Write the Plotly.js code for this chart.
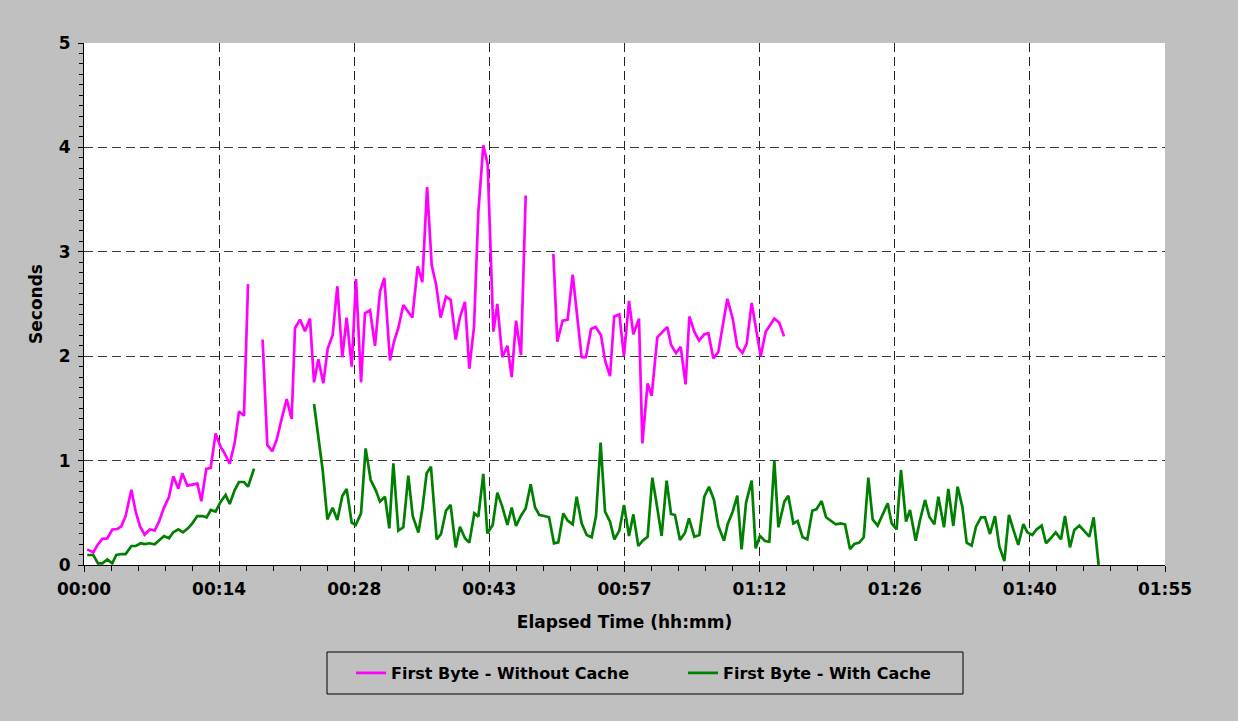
<!DOCTYPE html>
<html>
<head>
<meta charset="utf-8">
<script src="https://cdn.plot.ly/plotly-3.0.1.min.js"></script>
<style>
html,body{margin:0;padding:0;background:#c0c0c0;}
#chart{width:1238px;height:721px;}
</style>
</head>
<body>
<div id="chart"></div>
<script>
// Elapsed minutes and seconds-to-first-byte
var minutesNoCache = [0.35,0.99,1.42,1.95,2.48,3.01,3.55,3.97,4.43,5.04,5.5,5.96,6.45,6.99,7.52,7.98,8.51,9.04,9.5,10.04,10.46,10.99,11.52,12.06,12.48,13.01,13.48,14.0,14.54,14.96,15.5,16.03,16.49,17.02,17.45,
  18.2,
  19.0,19.5,20.03,20.5,21.03,21.56,22.09,22.45,22.98,23.51,24.04,24.47,24.93,25.46,25.92,26.45,26.95,27.48,27.94,28.48,28.94,29.47,29.89,30.43,30.96,31.49,31.95,32.55,32.98,33.44,33.97,34.45,34.93,35.5,35.99,36.5,36.99,37.45,37.94,38.51,39.01,39.54,40.0,40.53,40.99,41.49,41.95,42.48,42.94,43.55,43.97,44.5,45.04,45.5,45.96,46.49,46.99,
  48.4,
  49.93,50.35,50.92,51.45,51.99,52.48,52.94,53.4,53.94,54.43,55.0,55.43,55.96,56.4,56.95,57.44,57.98,58.44,59.04,59.4,59.96,60.39,60.99,61.52,62.06,62.45,62.98,63.48,64.0,64.4,64.93,65.43,65.99,66.42,66.95,67.48,67.94,68.44,69.01,69.5,70.04,70.5,71.03,71.49,71.99,72.52,72.98,73.44,73.97,74.47];
var secondsNoCache = [0.15,0.12,0.19,0.25,0.255,0.34,0.345,0.37,0.47,0.72,0.51,0.37,0.29,0.34,0.33,0.415,0.55,0.65,0.85,0.73,0.88,0.76,0.77,0.78,0.61,0.92,0.93,1.26,1.13,1.07,0.97,1.17,1.47,1.43,2.69,
  null,
  2.16,1.15,1.09,1.2,1.4,1.59,1.4,2.27,2.35,2.24,2.36,1.75,1.97,1.74,2.07,2.2,2.67,1.99,2.37,1.9,2.74,1.75,2.41,2.44,2.1,2.62,2.75,1.96,2.14,2.27,2.49,2.43,2.37,2.86,2.71,3.62,2.87,2.69,2.37,2.57,2.54,2.16,2.375,2.52,1.88,2.28,3.38,4.02,3.84,2.235,2.5,1.99,2.1,1.8,2.34,2.01,3.54,
  null,
  2.98,2.14,2.34,2.35,2.78,2.375,1.99,1.99,2.26,2.28,2.2,1.96,1.81,2.38,2.4,2.0,2.53,2.21,2.36,1.165,1.74,1.62,2.18,2.23,2.28,2.11,2.03,2.09,1.73,2.38,2.235,2.15,2.21,2.22,1.98,2.04,2.3,2.55,2.36,2.09,2.03,2.12,2.51,2.26,2.0,2.235,2.3,2.36,2.32,2.19];

var minutesCache = [0.35,0.99,1.49,1.95,2.48,3.01,3.44,3.97,4.43,5.04,5.5,6.03,6.45,6.99,7.52,7.98,8.51,9.04,9.5,10.04,10.53,11.06,11.52,12.06,12.59,13.05,13.48,14.0,14.54,15.07,15.5,16.03,16.49,17.02,17.45,18.09,
  21.3,
  24.47,25.39,25.89,26.45,26.95,27.48,27.94,28.48,28.9,29.47,29.96,30.5,31.03,31.49,32.02,32.48,32.91,33.44,33.97,34.5,34.97,35.57,35.99,36.45,36.91,37.52,37.98,38.51,39.0,39.54,40.0,40.53,40.99,41.52,41.95,42.48,42.91,43.48,43.97,44.5,45.04,45.5,45.96,46.49,46.99,47.52,47.98,48.44,48.97,49.47,50.0,50.46,50.99,51.45,51.99,52.41,52.94,53.48,54.01,54.47,54.96,55.43,55.96,56.42,56.95,57.45,57.98,58.44,58.97,59.43,59.96,60.46,60.92,61.45,61.98,62.45,62.87,63.4,63.94,64.36,64.93,65.46,65.99,66.49,67.02,67.48,68.09,68.48,69.01,69.5,69.96,70.43,71.03,71.45,71.91,72.45,72.91,73.44,73.87,74.51,74.93,75.46,75.92,76.45,76.95,77.48,77.94,78.47,78.94,79.43,79.97,80.5,80.96,81.49,81.95,82.48,82.95,83.44,83.9,84.43,84.96,85.5,85.92,86.45,86.91,87.45,87.87,88.48,88.94,89.47,89.93,90.46,90.89,91.49,91.95,92.48,92.94,93.44,93.9,94.43,94.89,95.43,95.85,96.38,96.91,97.38,97.91,98.4,98.86,99.39,99.93,100.35,100.88,101.35,101.88,102.34,102.84,103.37,103.94,104.36,104.89,105.35,105.89,106.42,106.95,107.41,107.94];
var secondsCache = [0.096,0.096,0.016,0.016,0.054,0.016,0.096,0.105,0.105,0.182,0.182,0.208,0.201,0.208,0.198,0.233,0.278,0.256,0.313,0.342,0.313,0.351,0.399,0.469,0.469,0.457,0.527,0.511,0.607,0.671,0.584,0.718,0.795,0.795,0.75,0.923,
  null,
  1.542,0.91,0.437,0.549,0.431,0.661,0.728,0.405,0.383,0.495,1.117,0.814,0.718,0.607,0.654,0.351,0.974,0.329,0.361,0.856,0.469,0.31,0.533,0.878,0.942,0.246,0.297,0.52,0.575,0.169,0.367,0.256,0.214,0.495,0.463,0.872,0.303,0.383,0.693,0.559,0.383,0.549,0.374,0.472,0.543,0.773,0.553,0.479,0.469,0.457,0.208,0.217,0.495,0.425,0.389,0.654,0.399,0.287,0.265,0.469,1.172,0.511,0.415,0.246,0.329,0.575,0.278,0.485,0.182,0.233,0.271,0.836,0.584,0.278,0.808,0.489,0.479,0.239,0.31,0.447,0.271,0.287,0.654,0.75,0.623,0.374,0.233,0.393,0.511,0.664,0.15,0.597,0.808,0.16,0.278,0.23,0.223,0.999,0.361,0.607,0.664,0.399,0.421,0.265,0.246,0.52,0.536,0.613,0.457,0.425,0.389,0.399,0.389,0.153,0.201,0.214,0.265,0.836,0.437,0.377,0.479,0.591,0.399,0.342,0.91,0.415,0.527,0.233,0.431,0.623,0.463,0.389,0.654,0.361,0.728,0.374,0.75,0.559,0.214,0.185,0.367,0.457,0.457,0.297,0.469,0.176,0.038,0.479,0.342,0.192,0.393,0.313,0.287,0.342,0.377,0.208,0.256,0.313,0.246,0.469,0.169,0.335,0.377,0.329,0.271,0.457,0.0];

var xTickMinutes = [0,14.375,28.75,43.125,57.5,71.875,86.25,100.625,115];
var xTickLabels = ['00:00','00:14','00:28','00:43','00:57','01:12','01:26','01:40','01:55'];
var seriesNames = ['First Byte - Without Cache','First Byte - With Cache'];
var seriesColors = ['#ff00ff','#008000'];

var FONT = 'DejaVu Sans, Verdana, sans-serif';

var traces = [
  {x: minutesNoCache, y: secondsNoCache, name: seriesNames[0], type: 'scatter', mode: 'lines',
   connectgaps: false, line: {color: seriesColors[0], width: 2.7}},
  {x: minutesCache, y: secondsCache, name: seriesNames[1], type: 'scatter', mode: 'lines',
   connectgaps: false, line: {color: seriesColors[1], width: 2.7}}
];

// plot area in pixels: x 84..1165, y 43..565 (height 522)
var layout = {
  width: 1238, height: 721,
  paper_bgcolor: '#c0c0c0',
  plot_bgcolor: '#ffffff',
  margin: {l: 84, r: 73, t: 43, b: 156},
  showlegend: true,
  font: {family: FONT, color: '#000', size: 16},
  xaxis: {
    range: [0, 115],
    tickmode: 'array', tickvals: xTickMinutes, ticktext: xTickLabels,
    ticks: 'outside', ticklen: 6, tickwidth: 1, tickcolor: '#000',
    ticklabelstandoff: 3,
    tickfont: {family: FONT, size: 17, color: '#000', weight: 'bold'},
    showline: true, linecolor: '#000', linewidth: 1,
    showgrid: true, gridcolor: '#222', griddash: '9px,5px', gridwidth: 1,
    zeroline: false,
    minor: {dtick: 2.875, tick0: 0, ticks: 'outside', ticklen: 5, tickcolor: '#000', showgrid: false},
    title: {text: 'Elapsed Time (hh:mm)', font: {family: FONT, size: 17, color: '#000', weight: 'bold'}, standoff: 17},
    fixedrange: true
  },
  yaxis: {
    range: [0, 5],
    tickmode: 'linear', tick0: 0, dtick: 1,
    ticks: 'outside', ticklen: 5, tickwidth: 1, tickcolor: '#000',
    ticklabelstandoff: 4,
    tickfont: {family: FONT, size: 17, color: '#000', weight: 'bold'},
    showline: true, linecolor: '#000', linewidth: 1,
    showgrid: true, gridcolor: '#3a3a3a', griddash: '9px,5px', gridwidth: 1,
    zeroline: false,
    minor: {dtick: 0.1, tick0: 0, ticks: 'outside', ticklen: 4, tickcolor: '#000', showgrid: false},
    title: {text: 'Seconds', font: {family: FONT, size: 17, color: '#000', weight: 'bold'}, standoff: 11},
    fixedrange: true
  },
  legend: {
    orientation: 'h',
    x: (351 - 84) / 1081, xanchor: 'left',
    y: (565 - 673) / 522, yanchor: 'middle',
    bgcolor: 'rgba(0,0,0,0)', borderwidth: 0,
    font: {family: FONT, size: 16, color: '#000', weight: 'bold'},
    entrywidth: 287, itemwidth: 30
  },
  shapes: [{
    type: 'rect', xref: 'paper', yref: 'paper', layer: 'below',
    x0: (327 - 84) / 1081, x1: (963 - 84) / 1081,
    y0: (565 - 652) / 522, y1: (565 - 694) / 522,
    line: {color: '#000', width: 1}, fillcolor: 'rgba(0,0,0,0)'
  }]
};

Plotly.newPlot('chart', traces, layout, {displayModeBar: false, staticPlot: true});
</script>
</body>
</html>
